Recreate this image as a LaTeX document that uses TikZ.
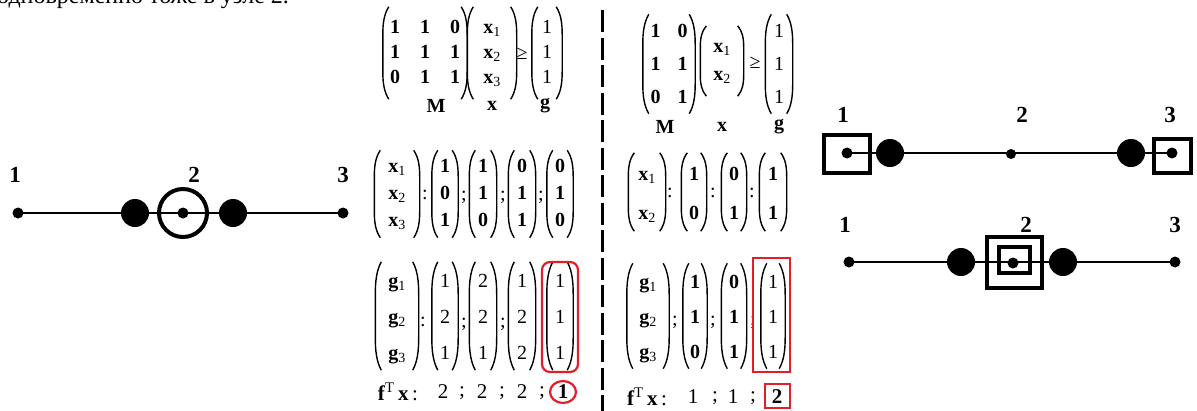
\documentclass[tikz,border=0pt]{standalone}
\usepackage{fontspec}
\setmainfont{Liberation Serif}
\usetikzlibrary{calc}
\definecolor{redm}{RGB}{228,30,40}
\pgfdeclarelayer{bgl}
\pgfsetlayers{bgl,main}
\newcommand\mfont{\fontsize{20}{20}\selectfont}
\newcommand\ffont{\fontsize{21}{22}\selectfont}
\newcommand\xsub[1]{\textbf{x}\textsubscript{#1}}
\newcommand\gsub[1]{\textbf{g}\textsubscript{#1}}
\newcommand\cvec[2]{\def\arraystretch{#1}\begin{tabular}{@{}c@{}}#2\end{tabular}}
\newcommand\mmat[4]{\def\arraystretch{#1}\setlength\tabcolsep{#2}\begin{tabular}{@{}#3@{}}#4\end{tabular}}
\newcommand\vparen[1]{%
\draw[pline] ($(#1.north west)+(6pt,0)$)
 .. controls ($(#1.north west)!0.08!(#1.south west)+(1.2pt,0)$) and ($(#1.north west)!0.18!(#1.south west)$)
 .. ($(#1.north west)!0.3!(#1.south west)$) -- ($(#1.north west)!0.7!(#1.south west)$)
 .. controls ($(#1.north west)!0.82!(#1.south west)$) and ($(#1.north west)!0.92!(#1.south west)+(1.2pt,0)$)
 .. ($(#1.south west)+(6pt,0)$);
\draw[pline] ($(#1.north east)+(-6pt,0)$)
 .. controls ($(#1.north east)!0.08!(#1.south east)+(-1.2pt,0)$) and ($(#1.north east)!0.18!(#1.south east)$)
 .. ($(#1.north east)!0.3!(#1.south east)$) -- ($(#1.north east)!0.7!(#1.south east)$)
 .. controls ($(#1.north east)!0.82!(#1.south east)$) and ($(#1.north east)!0.92!(#1.south east)+(-1.2pt,0)$)
 .. ($(#1.south east)+(-6pt,0)$);}
\tikzset{
 vec/.style n args={2}{inner sep=0pt, minimum width=#1pt, minimum height=#2pt, font=\mfont},
 pline/.style={line width=1.4pt},
 sym/.style={inner sep=0pt, font=\mfont},
 fsym/.style={inner sep=0pt, font=\ffont},
 lab/.style={inner sep=0pt, font=\fontsize{20}{22}\selectfont\bfseries},
 glab/.style={inner sep=0pt, font=\fontsize{23}{26}\selectfont\bfseries},
 dot/.style={circle, fill, inner sep=0pt, minimum size=11pt},
 big/.style={circle, fill, inner sep=0pt, minimum size=28pt},
 ring/.style={circle, draw, line width=4pt, inner sep=0pt, minimum size=48pt},
 sq/.style={rectangle, draw, line width=4pt, inner sep=0pt},
 gline/.style={line width=2.2pt},
 redbox/.style={draw=redm, line width=2.2pt, inner sep=0pt},
}
\begin{document}
\begin{tikzpicture}[x=1pt,y=-1pt]
\begin{pgfonlayer}{bgl}\fill[white] (0,0) rectangle (1197,410);\end{pgfonlayer}
\useasboundingbox (0,0) rectangle (1197,410);
% cut-off caption at the top
\node[anchor=base west, inner sep=0pt, font=\fontsize{24}{28}\selectfont] (cap) at (-3,3) {одновременно тоже в узле 2.};

% ---------- left graph ----------
\node[dot] (a1) at (18,213) {};
\node[big] (ab1) at (135,213) {};
\node[dot] (a2) at (183,213) {};
\node[ring] (ac) at (183,213) {};
\node[big] (ab2) at (233,213) {};
\node[dot] (a3) at (343,213) {};
\begin{pgfonlayer}{bgl}\draw[gline] (a1.center) -- (a3.center);\end{pgfonlayer}
\node[glab] (la1) at (15,175) {1};
\node[glab] (la2) at (194,175) {2};
\node[glab] (la3) at (343,175) {3};

% ---------- top-left system ----------
\node[vec={84}{92}] (M1) at (425,53) {\mmat{1.25}{10pt}{ccc}{\bfseries 1&\bfseries 1&\bfseries 0\\\bfseries 1&\bfseries 1&\bfseries 1\\\bfseries 0&\bfseries 1&\bfseries 1}};
\vparen{M1}
\node[vec={49}{92}] (X1) at (492,53) {\cvec{1.25}{\xsub1\\\xsub2\\\xsub3}};
\vparen{X1}
\node[sym] (ge1) at (522,54) {≥};
\node[vec={30}{92}] (G1) at (547,53) {\cvec{1.25}{1\\1\\1}};
\vparen{G1}
\node[lab] (lM1) at (436,106) {M};
\node[lab] (lx1) at (492,106) {x};
\node[lab] (lg1) at (545,106) {g};

% ---------- top-right system ----------
\node[vec={52}{94}] (M2) at (669,64) {\mmat{1.65}{8.5pt}{cc}{\bfseries 1&\bfseries 0\\\bfseries 1&\bfseries 1\\\bfseries 0&\bfseries 1}};
\vparen{M2}
\node[vec={43}{70}] (X2) at (722,61) {\cvec{1.4}{\xsub1\\\xsub2}};
\vparen{X2}
\node[sym] (ge2) at (755,63) {≥};
\node[vec={27}{95}] (G2) at (779,64) {\cvec{1.65}{1\\1\\1}};
\vparen{G2}
\node[lab] (lM2) at (665,127) {M};
\node[lab] (lx2) at (722,127) {x};
\node[lab] (lg2) at (779,127) {g};

% ---------- second row left ----------
\node[vec={45}{87}] (XV3) at (397,194) {\cvec{1.35}{\xsub1\\\xsub2\\\xsub3}};
\vparen{XV3}
\node[sym] (s1) at (425,195) {:};
\node[vec={26}{87}] (A1) at (445,194) {\cvec{1.35}{\bfseries 1\\\bfseries 0\\\bfseries 1}};
\vparen{A1}
\node[sym] (s2) at (464,197) {;};
\node[vec={27}{87}] (A2) at (483,194) {\cvec{1.35}{\bfseries 1\\\bfseries 1\\\bfseries 0}};
\vparen{A2}
\node[sym] (s3) at (503,197) {;};
\node[vec={27}{87}] (A3) at (522,194) {\cvec{1.35}{\bfseries 0\\\bfseries 1\\\bfseries 1}};
\vparen{A3}
\node[sym] (s4) at (541,197) {;};
\node[vec={26}{87}] (A4) at (560,194) {\cvec{1.35}{\bfseries 0\\\bfseries 1\\\bfseries 0}};
\vparen{A4}

% ---------- second row right ----------
\node[vec={37}{67}] (XV2) at (647,192) {\cvec{1.95}{\xsub1\\\xsub2}};
\vparen{XV2}
\node[sym] (t1) at (670,193) {:};
\node[vec={25}{67}] (B1) at (694,192) {\cvec{1.95}{\bfseries 1\\\bfseries 0}};
\vparen{B1}
\node[sym] (t2) at (713,193) {:};
\node[vec={25}{67}] (B2) at (734,192) {\cvec{1.95}{\bfseries 0\\\bfseries 1}};
\vparen{B2}
\node[sym] (t3) at (752,193) {:};
\node[vec={27}{67}] (B3) at (773,192) {\cvec{1.95}{\bfseries 1\\\bfseries 1}};
\vparen{B3}

% ---------- third row left ----------
\node[vec={43}{98}] (GV3) at (397,316) {\cvec{1.8}{\gsub1\\\gsub2\\\gsub3}};
\vparen{GV3}
\node[sym] (u1) at (423,322) {:};
\node[vec={26}{98}] (C1) at (445,316) {\cvec{1.8}{1\\2\\1}};
\vparen{C1}
\node[sym] (u2) at (464,324) {;};
\node[vec={27}{98}] (C2) at (483,316) {\cvec{1.8}{2\\2\\1}};
\vparen{C2}
\node[sym] (u3) at (503,324) {;};
\node[vec={27}{98}] (C3) at (522,316) {\cvec{1.8}{1\\2\\2}};
\vparen{C3}
\node[vec={26}{98}] (C4) at (560,316) {\cvec{1.8}{1\\1\\1}};
\vparen{C4}
\node[redbox, rounded corners=8pt, minimum width=36pt, minimum height=110pt] (R1) at (560,317) {};

\node[fsym] (f1) at (398,392) {\textbf{f}\textsuperscript{T}\,\textbf{x}\,:};
\node[fsym] (f1a) at (443,392) {2};
\node[fsym] (f1b) at (462,393) {;};
\node[fsym] (f1c) at (482,392) {2};
\node[fsym] (f1d) at (502,393) {;};
\node[fsym] (f1e) at (522,392) {2};
\node[fsym] (f1f) at (542,393) {;};
\node[fsym] (f1g) at (563,392) {\bfseries 1};
\draw[redm, line width=2.2pt] (f1g) ellipse [x radius=13, y radius=11];

% ---------- third row right ----------
\node[vec={42}{92}] (GV2) at (648,316) {\cvec{1.75}{\gsub1\\\gsub2\\\gsub3}};
\vparen{GV2}
\node[sym] (w1) at (675,322) {;};
\node[vec={24}{92}] (D1) at (695,316) {\cvec{1.75}{\bfseries 1\\\bfseries 1\\\bfseries 0}};
\vparen{D1}
\node[sym] (w2) at (713,322) {;};
\node[vec={25}{92}] (D2) at (734,316) {\cvec{1.75}{\bfseries 0\\\bfseries 1\\\bfseries 1}};
\vparen{D2}
\node[sym] (w3) at (753,322) {;};
\node[vec={24}{92}] (D3) at (773,316) {\cvec{1.75}{1\\1\\1}};
\vparen{D3}
\node[redbox, minimum width=37pt, minimum height=114pt] (R2) at (771.5,315) {};

\node[fsym] (f2) at (647,397) {\textbf{f}\textsuperscript{T}\,\textbf{x}\,:};
\node[fsym] (f2a) at (693,397) {1};
\node[fsym] (f2b) at (715,398) {;};
\node[fsym] (f2c) at (733,397) {1};
\node[fsym] (f2d) at (753,398) {;};
\node[fsym] (f2e) at (777,397) {\bfseries 2};
\node[redbox, minimum width=25pt, minimum height=24pt] (R3) at (777.5,396) {};

% ---------- dashed divider ----------
\coordinate (dtop) at (602,10);
\coordinate (dbot) at (602,412);
\draw[line width=3pt, dash pattern=on 22pt off 5.5pt] (dtop) -- (dbot);

% ---------- top-right graph ----------
\node[dot] (b1) at (847,153) {};
\node[sq, minimum width=46pt, minimum height=38pt] (bs1) at (847,154) {};
\node[big] (bb1) at (890,153) {};
\node[dot, minimum size=10pt] (b2) at (1011,154) {};
\node[big] (bb2) at (1131,153) {};
\node[sq, minimum width=37pt, minimum height=34pt] (bs3) at (1172.5,156) {};
\node[dot] (b3) at (1172,153) {};
\begin{pgfonlayer}{bgl}\draw[gline] (b1.center) -- (b3.center);\end{pgfonlayer}
\node[glab] (lb1) at (843,115) {1};
\node[glab] (lb2) at (1022,115) {2};
\node[glab] (lb3) at (1170,115) {3};

% ---------- bottom-right graph ----------
\node[dot] (c1) at (849,262) {};
\node[big] (cb1) at (961,262) {};
\node[sq, minimum width=55pt, minimum height=51pt] (cso) at (1014.5,262.5) {};
\node[sq, minimum width=31pt, minimum height=26pt] (csi) at (1014.5,260) {};
\node[dot] (c2) at (1013,263) {};
\node[big] (cb2) at (1063,262) {};
\node[dot] (c3) at (1175,262) {};
\begin{pgfonlayer}{bgl}\draw[gline] (c1.center) -- (c3.center);\end{pgfonlayer}
\node[glab] (lc1) at (845,225) {1};
\node[glab] (lc2) at (1026,225) {2};
\node[glab] (lc3) at (1175,225) {3};
\end{tikzpicture}
\end{document}
